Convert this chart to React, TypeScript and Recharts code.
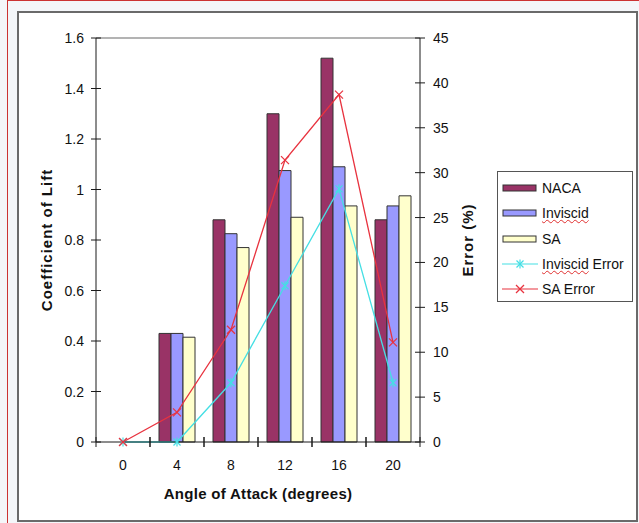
import React from "react";
import {
  ComposedChart,
  Bar,
  Line,
  XAxis,
  YAxis,
  ReferenceLine,
} from "recharts";

const angles = ["0", "4", "8", "12", "16", "20"];
const naca = [0, 0.43, 0.88, 1.3, 1.52, 0.88];
const inviscid = [0, 0.43, 0.825, 1.075, 1.09, 0.935];
const sa = [0, 0.415, 0.77, 0.89, 0.935, 0.975];
const inviscidError = [0, 0, 6.6, 17.4, 28.2, 6.6];
const saError = [0, 3.3, 12.5, 31.4, 38.7, 11.1];

const liftTicks = [0, 0.2, 0.4, 0.6, 0.8, 1, 1.2, 1.4, 1.6];
const errorTicks = [0, 5, 10, 15, 20, 25, 30, 35, 40, 45];

const FONT = "Arial, 'Liberation Sans', sans-serif";
const AXIS = "#1a1a1a";
const C_NACA = "#993366";
const C_INV = "#9999ff";
const C_SA = "#ffffcc";
const C_INV_ERR = "#45dfe4";
const C_SA_ERR = "#e8333f";

const TICK_SIZE = 5;
const Y_MARGIN = 6;
const R_MARGIN = 8;
const X_MARGIN = 10;
const TICK_FONT = 14;

const data = angles.map((a, i) => ({
  angle: a,
  naca: naca[i],
  inviscid: inviscid[i],
  sa: sa[i],
  inviscidError: inviscidError[i],
  saError: saError[i],
}));

// ticks that cross the axis line, Excel style
function LeftTick(props: any) {
  const { x, y, payload } = props;
  const ax = x + TICK_SIZE + Y_MARGIN;
  return (
    <g>
      <line x1={ax - 5} x2={ax + 5} y1={y} y2={y} stroke={AXIS} />
      <text x={x - 1} y={y} dy={5} textAnchor="end" fontSize={TICK_FONT} fill="#111" fontFamily={FONT}>
        {payload.value}
      </text>
    </g>
  );
}

function RightTick(props: any) {
  const { x, y, payload } = props;
  const ax = x - TICK_SIZE - R_MARGIN;
  return (
    <g>
      <line x1={ax - 5} x2={ax + 5} y1={y} y2={y} stroke={AXIS} />
      <text x={x} y={y} dy={5} textAnchor="start" fontSize={TICK_FONT} fill="#111" fontFamily={FONT}>
        {payload.value}
      </text>
    </g>
  );
}

function AngleTick(props: any) {
  const { x, y, payload } = props;
  const half = payload.offset || 27;
  const ay = y - TICK_SIZE - X_MARGIN;
  return (
    <g>
      <line x1={x - half} x2={x - half} y1={ay - 5} y2={ay + 5} stroke={AXIS} />
      <line x1={x + half} x2={x + half} y1={ay - 5} y2={ay + 5} stroke={AXIS} />
      <text x={x} y={y} dy={13} textAnchor="middle" fontSize={TICK_FONT} fill="#111" fontFamily={FONT}>
        {payload.value}
      </text>
    </g>
  );
}

function CrossDot(props: any) {
  const { cx, cy } = props;
  const s = 4;
  return (
    <g stroke={C_SA_ERR} strokeWidth={1.2}>
      <line x1={cx - s} y1={cy - s} x2={cx + s} y2={cy + s} />
      <line x1={cx - s} y1={cy + s} x2={cx + s} y2={cy - s} />
    </g>
  );
}

function StarDot(props: any) {
  const { cx, cy } = props;
  const s = 3.5;
  return (
    <g stroke={C_INV_ERR} strokeWidth={1.2}>
      <line x1={cx - s} y1={cy - s} x2={cx + s} y2={cy + s} />
      <line x1={cx - s} y1={cy + s} x2={cx + s} y2={cy - s} />
      <line x1={cx} y1={cy - s - 1} x2={cx} y2={cy + s + 1} />
    </g>
  );
}

const titleStyle = { fontSize: 15, fontWeight: 700, fill: "#111", fontFamily: FONT };

function LeftTitle(props: any) {
  const vb = props.viewBox;
  const x = vb.x + 10;
  const y = vb.y + vb.height / 2;
  return (
    <text x={x} y={y} transform={`rotate(-90 ${x} ${y})`} textAnchor="middle" dominantBaseline="central" letterSpacing={1} {...titleStyle}>
      Coefficient of Lift
    </text>
  );
}

function RightTitle(props: any) {
  const vb = props.viewBox;
  const x = vb.x + 47;
  const y = vb.y + vb.height / 2;
  return (
    <text x={x} y={y} transform={`rotate(-90 ${x} ${y})`} textAnchor="middle" dominantBaseline="central" letterSpacing={1} {...titleStyle}>
      Error (%)
    </text>
  );
}

function BottomTitle(props: any) {
  const vb = props.viewBox;
  return (
    <text x={vb.x + vb.width / 2} y={vb.y + 51} textAnchor="middle" dominantBaseline="central" letterSpacing={0.3} {...titleStyle}>
      Angle of Attack (degrees)
    </text>
  );
}

const legendRows = [
  { label: "NACA", kind: "bar", color: C_NACA, squiggle: false },
  { label: "Inviscid", kind: "bar", color: C_INV, squiggle: true },
  { label: "SA", kind: "bar", color: C_SA, squiggle: false },
  { label: "Inviscid Error", kind: "star", color: C_INV_ERR, squiggle: true },
  { label: "SA Error", kind: "cross", color: C_SA_ERR, squiggle: false },
];

function LegendSwatch({ kind, color }: { kind: string; color: string }) {
  return (
    <svg width={38} height={12} style={{ display: "block" }}>
      {kind === "bar" ? (
        <rect x={1} y={3} width={33} height={6} fill={color} stroke="#333" strokeWidth={1} />
      ) : (
        <>
          <line x1={0} x2={36} y1={6} y2={6} stroke={color} strokeWidth={1.2} />
          {kind === "star" ? <StarDot cx={18} cy={6} /> : <CrossDot cx={18} cy={6} />}
        </>
      )}
    </svg>
  );
}

function ChartLegend() {
  return (
    <div
      style={{
        position: "absolute",
        left: 497,
        top: 171,
        width: 136,
        height: 131,
        border: "1.5px solid #555",
        boxSizing: "border-box",
        background: "#fff",
        fontFamily: FONT,
        fontSize: 14,
        color: "#111",
      }}
    >
      {legendRows.map((r, i) => (
        <div
          key={r.label}
          style={{
            position: "absolute",
            left: 4,
            top: 8 + i * 25.3,
            display: "flex",
            alignItems: "center",
            whiteSpace: "nowrap",
          }}
        >
          <LegendSwatch kind={r.kind} color={r.color} />
          <span style={{ marginLeft: 2 }}>
            {r.squiggle ? (
              <>
                <span style={{ textDecoration: "underline wavy #e03030", textDecorationThickness: 1 }}>Inviscid</span>
                {r.label.slice(8)}
              </>
            ) : (
              r.label
            )}
          </span>
        </div>
      ))}
    </div>
  );
}

export default function App() {
  return (
    <div
      style={{
        position: "absolute",
        left: 0,
        top: 0,
        width: 639,
        height: 523,
        overflow: "hidden",
        background: "#f4f6f9",
      }}
    >
      <div
        style={{
          position: "absolute",
          left: 7,
          top: 0,
          width: 660,
          height: 560,
          border: "1px solid #cc3333",
        }}
      />
      <div
        style={{
          position: "absolute",
          left: 17,
          top: 11,
          width: 621,
          height: 511,
          border: "2px solid #6a6a6a",
          boxSizing: "border-box",
          background: "#fff",
        }}
      />
      <div style={{ position: "absolute", left: 0, top: 0 }}>
        <ComposedChart
          width={639}
          height={523}
          data={data}
          margin={{ top: 38, right: 149, bottom: 26, left: 36 }}
          barCategoryGap="16.67%"
          barGap={0}
        >
          <XAxis
            dataKey="angle"
            height={55}
            axisLine={{ stroke: AXIS }}
            tickLine={false}
            tickSize={TICK_SIZE}
            tickMargin={X_MARGIN}
            tick={<AngleTick />}
            interval={0}
            label={<BottomTitle />}
          />
          <YAxis
            yAxisId="lift"
            orientation="left"
            width={60}
            domain={[0, 1.6]}
            ticks={liftTicks}
            axisLine={{ stroke: AXIS }}
            tickLine={false}
            tickSize={TICK_SIZE}
            tickMargin={Y_MARGIN}
            tick={<LeftTick />}
            interval={0}
            label={<LeftTitle />}
          />
          <YAxis
            yAxisId="error"
            orientation="right"
            width={70}
            domain={[0, 45]}
            ticks={errorTicks}
            axisLine={{ stroke: AXIS }}
            tickLine={false}
            tickSize={TICK_SIZE}
            tickMargin={R_MARGIN}
            tick={<RightTick />}
            interval={0}
            label={<RightTitle />}
          />
          <ReferenceLine yAxisId="lift" y={1.6} stroke="#9a9a9a" strokeWidth={1.5} />
          <Bar yAxisId="lift" dataKey="naca" fill={C_NACA} stroke="#333" strokeWidth={1} isAnimationActive={false} />
          <Bar yAxisId="lift" dataKey="inviscid" fill={C_INV} stroke="#333" strokeWidth={1} isAnimationActive={false} />
          <Bar yAxisId="lift" dataKey="sa" fill={C_SA} stroke="#333" strokeWidth={1} isAnimationActive={false} />
          <Line
            yAxisId="error"
            type="linear"
            dataKey="inviscidError"
            stroke={C_INV_ERR}
            strokeWidth={1.3}
            dot={<StarDot />}
            activeDot={false}
            isAnimationActive={false}
          />
          <Line
            yAxisId="error"
            type="linear"
            dataKey="saError"
            stroke={C_SA_ERR}
            strokeWidth={1.3}
            dot={<CrossDot />}
            activeDot={false}
            isAnimationActive={false}
          />
        </ComposedChart>
      </div>
      <ChartLegend />
    </div>
  );
}
